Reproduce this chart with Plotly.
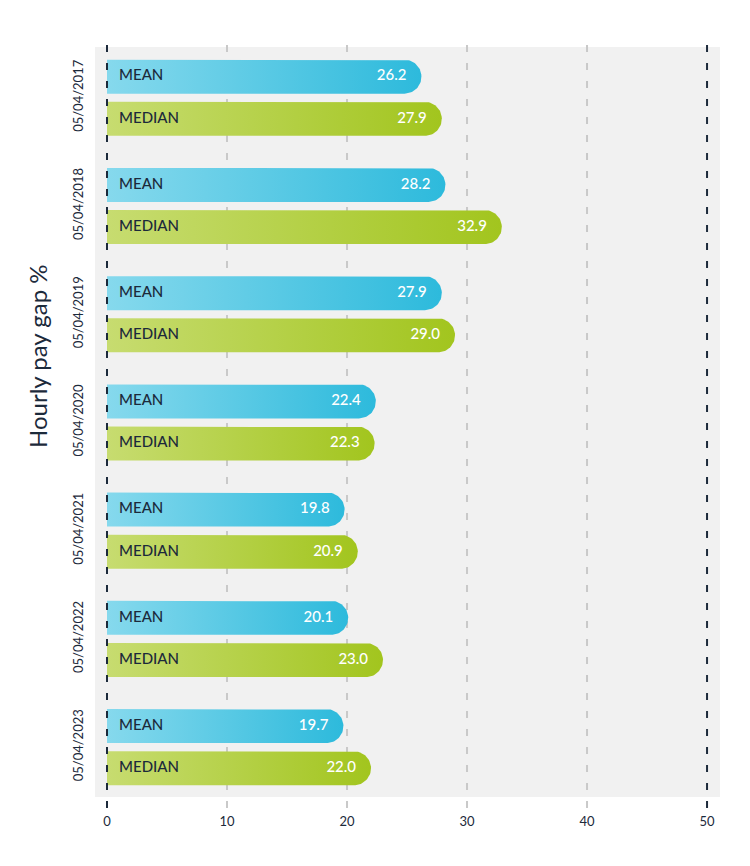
import numpy as np
import plotly.graph_objects as go

# ---- data ----
dates = ["05/04/2017", "05/04/2018", "05/04/2019", "05/04/2020",
         "05/04/2021", "05/04/2022", "05/04/2023"]
mean_gap = [26.2, 28.2, 27.9, 22.4, 19.8, 20.1, 19.7]
median_gap = [27.9, 32.9, 29.0, 22.3, 20.9, 23.0, 22.0]
series_names = ["MEAN", "MEDIAN"]
x_ticks = [0, 10, 20, 30, 40, 50]
y_title = "Hourly pay gap %"

# ---- layout geometry ----
W, H = 750, 866
ML, MR, MT, MB = 95, 30, 47, 69
XR = [-1.0, 51.08]
YR = [6.46, -0.469]
plot_w = W - ML - MR
plot_h = H - MT - MB
px_x = plot_w / (XR[1] - XR[0])
px_y = plot_h / abs(YR[0] - YR[1])

NAVY = "#1c2a3b"
bar_half_px = 17
half = bar_half_px / px_y
rx = bar_half_px / px_x
offset = 0.195

grads = {
    "MEAN": [[0, "#86d9ed"], [1, "#2dbadc"]],
    "MEDIAN": [[0, "#c7dc70"], [1, "#a2c51e"]],
}

fig = go.Figure()


def pill(v, yc):
    t = np.linspace(-np.pi / 2, np.pi / 2, 40)
    xs = [0, v - rx] + list(v - rx + rx * np.cos(t)) + [v - rx, 0, 0]
    ys = [yc - half, yc - half] + list(yc + half * np.sin(t)) + [yc + half, yc + half, yc - half]
    return xs, ys


for name, vals, off in [("MEAN", mean_gap, -offset), ("MEDIAN", median_gap, offset)]:
    ys_c = [i + off for i in range(len(vals))]
    for v, yc in zip(vals, ys_c):
        xs, ys = pill(v, yc)
        fig.add_trace(go.Scatter(
            x=xs, y=ys, mode="lines", fill="toself", line=dict(width=0),
            fillgradient=dict(type="horizontal", colorscale=grads[name]),
            hoverinfo="skip", showlegend=False))
    # category label (starts ~12 px right of zero)
    fig.add_trace(go.Scatter(
        x=[12 / px_x] * len(vals), y=ys_c,
        mode="text", text=[name] * len(vals), textposition="middle right",
        textfont=dict(family="Lato", size=15, color=NAVY, weight=500),
        hoverinfo="skip", showlegend=False, cliponaxis=False))
    # value label (ends ~15 px left of bar end)
    fig.add_trace(go.Scatter(
        x=[v - 15 / px_x for v in vals], y=ys_c,
        mode="text", text=[f"{v:.1f}" for v in vals], textposition="middle left",
        textfont=dict(family="Lato", size=15, color="white", weight=500),
        hoverinfo="skip", showlegend=False, cliponaxis=False))

# grid lines (dashed, extend beyond plot area)
y0p = -(11 / plot_h)
y1p = 1 + (9 / plot_h)
for xv in x_ticks:
    edge = xv in (x_ticks[0], x_ticks[-1])
    fig.add_shape(type="line", xref="x", yref="paper", x0=xv, x1=xv, y0=y0p, y1=y1p,
                  line=dict(color=NAVY if edge else "#c9c9c9", width=2, dash="7px,11px"),
                  layer="above" if edge else "below")

fig.add_annotation(text=y_title, xref="paper", yref="paper",
                   x=(38 - ML) / plot_w, y=1 - (356 - MT) / plot_h,
                   xanchor="center", yanchor="middle",
                   textangle=-90, showarrow=False,
                   font=dict(family="Lato", size=24, color=NAVY))

fig.update_layout(
    width=W, height=H,
    margin=dict(l=ML, r=MR, t=MT, b=MB),
    paper_bgcolor="white", plot_bgcolor="#f1f1f1",
    showlegend=False,
    xaxis=dict(range=XR, tickvals=x_ticks, showgrid=False, zeroline=False,
               ticks="outside", ticklen=12, tickcolor="rgba(0,0,0,0)",
               tickfont=dict(family="Lato", size=13, color=NAVY), fixedrange=True),
    yaxis=dict(range=YR, tickvals=list(range(len(dates))), ticktext=dates,
               tickangle=-90, showgrid=False, zeroline=False,
               ticks="outside", ticklen=6, tickcolor="rgba(0,0,0,0)",
               tickfont=dict(family="Lato", size=13, color=NAVY), fixedrange=True),
)

fig.write_html("out.html")
